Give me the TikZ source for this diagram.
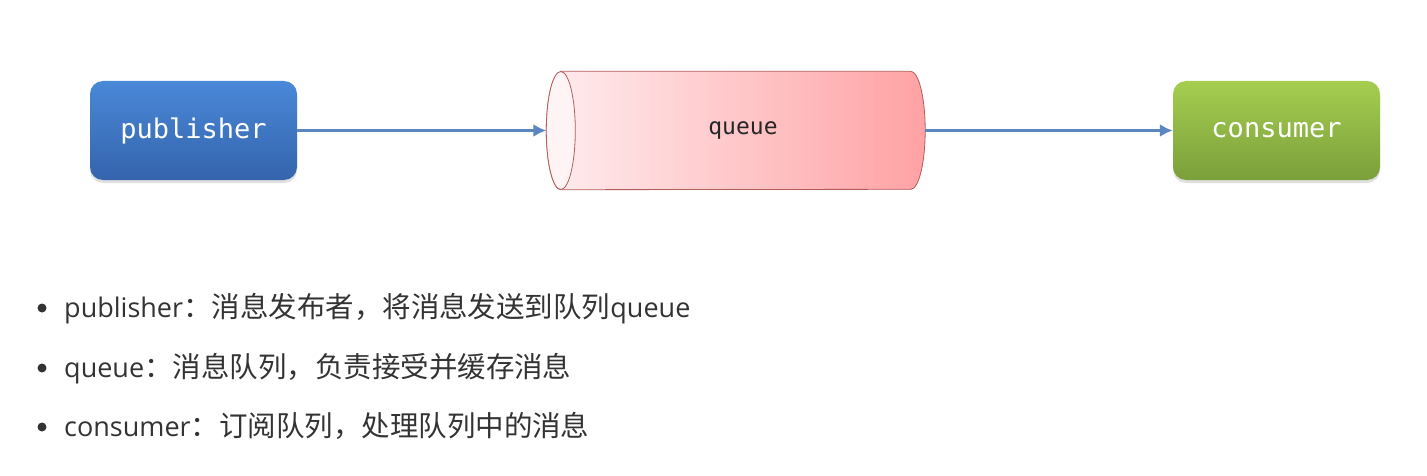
\documentclass[tikz,border=0pt]{standalone}
\usepackage{fontspec}
\setmainfont{Open Sans}
\setmonofont{DejaVu Sans Mono}
\newfontfamily\cjk[Scale=1.055]{Noto Sans CJK SC}
\usetikzlibrary{arrows.meta,shadows,backgrounds}

\definecolor{pubtop}{HTML}{4A88D8}
\definecolor{pubbot}{HTML}{3464AC}
\definecolor{contop}{HTML}{A5CE50}
\definecolor{conbot}{HTML}{7B9F3A}
\definecolor{qleft}{HTML}{FFEDEF}
\definecolor{qright}{HTML}{FFA2A4}
\definecolor{qface}{HTML}{FFF4F5}
\definecolor{qborder}{HTML}{B35A5A}
\definecolor{arrowblue}{HTML}{5B86C1}
\definecolor{textgray}{HTML}{333333}

\begin{document}
\begin{tikzpicture}[x=1pt,y=1pt,
        box/.style={rounded corners=13pt, minimum width=207pt, minimum height=99pt, inner sep=0pt,
            text=white, font=\ttfamily\fontsize{27}{32}\selectfont,
            drop shadow={shadow xshift=0pt, shadow yshift=-3pt, opacity=0.25}},
        flow/.style={-{Latex[length=13pt,width=13pt]}, line width=3.5pt, draw=arrowblue},
        item/.style={anchor=base west, inner sep=0pt, text=textgray, font=\fontsize{27}{32}\selectfont}]
            \useasboundingbox (0,0) rectangle (1427,475);

            % the three parts
            \node[box, top color=pubtop, bottom color=pubbot] (publisher) at (193.5,344.5) {publisher};
            \node[minimum width=364pt, minimum height=118pt, inner sep=0pt, text=black!85,
                font=\ttfamily\fontsize{23}{28}\selectfont] (queue) at (743,344.5) {queue};
            \node[box, top color=contop, bottom color=conbot] (consumer) at (1276.5,344.5) {consumer};

            % the queue drawn as a tube
            \begin{scope}[on background layer]
                \shadedraw[left color=qleft, right color=qright, draw=qborder, line width=0.8pt]
                    (queue.north west) -- ([xshift=-14.5pt]queue.north east)
                    arc[start angle=90, end angle=-90, x radius=14.5pt, y radius=59pt]
                    -- (queue.south west)
                    arc[start angle=270, end angle=90, x radius=14.5pt, y radius=59pt] -- cycle;
                \draw[fill=qface, draw=qborder, line width=0.8pt] (queue.west) ellipse [x radius=14.5pt, y radius=59pt];
            \end{scope}

            \draw[flow] (publisher) -- ([xshift=-14.5pt]queue.west);
            \draw[flow] (queue) -- (consumer);

            % the notes below
            \foreach \n/\y/\txt in {1/158/{publisher{\cjk ：消息发布者，将消息发送到队列}queue},
                    2/98/{queue{\cjk ：消息队列，负责接受并缓存消息}},
                    3/39/{consumer{\cjk ：订阅队列，处理队列中的消息}}}
                {\fill[textgray] (42,\y+9) circle (4.5);
                    \node[item] (item\n) at (64,\y) {\txt};
                }
        \end{tikzpicture}
\end{document}
